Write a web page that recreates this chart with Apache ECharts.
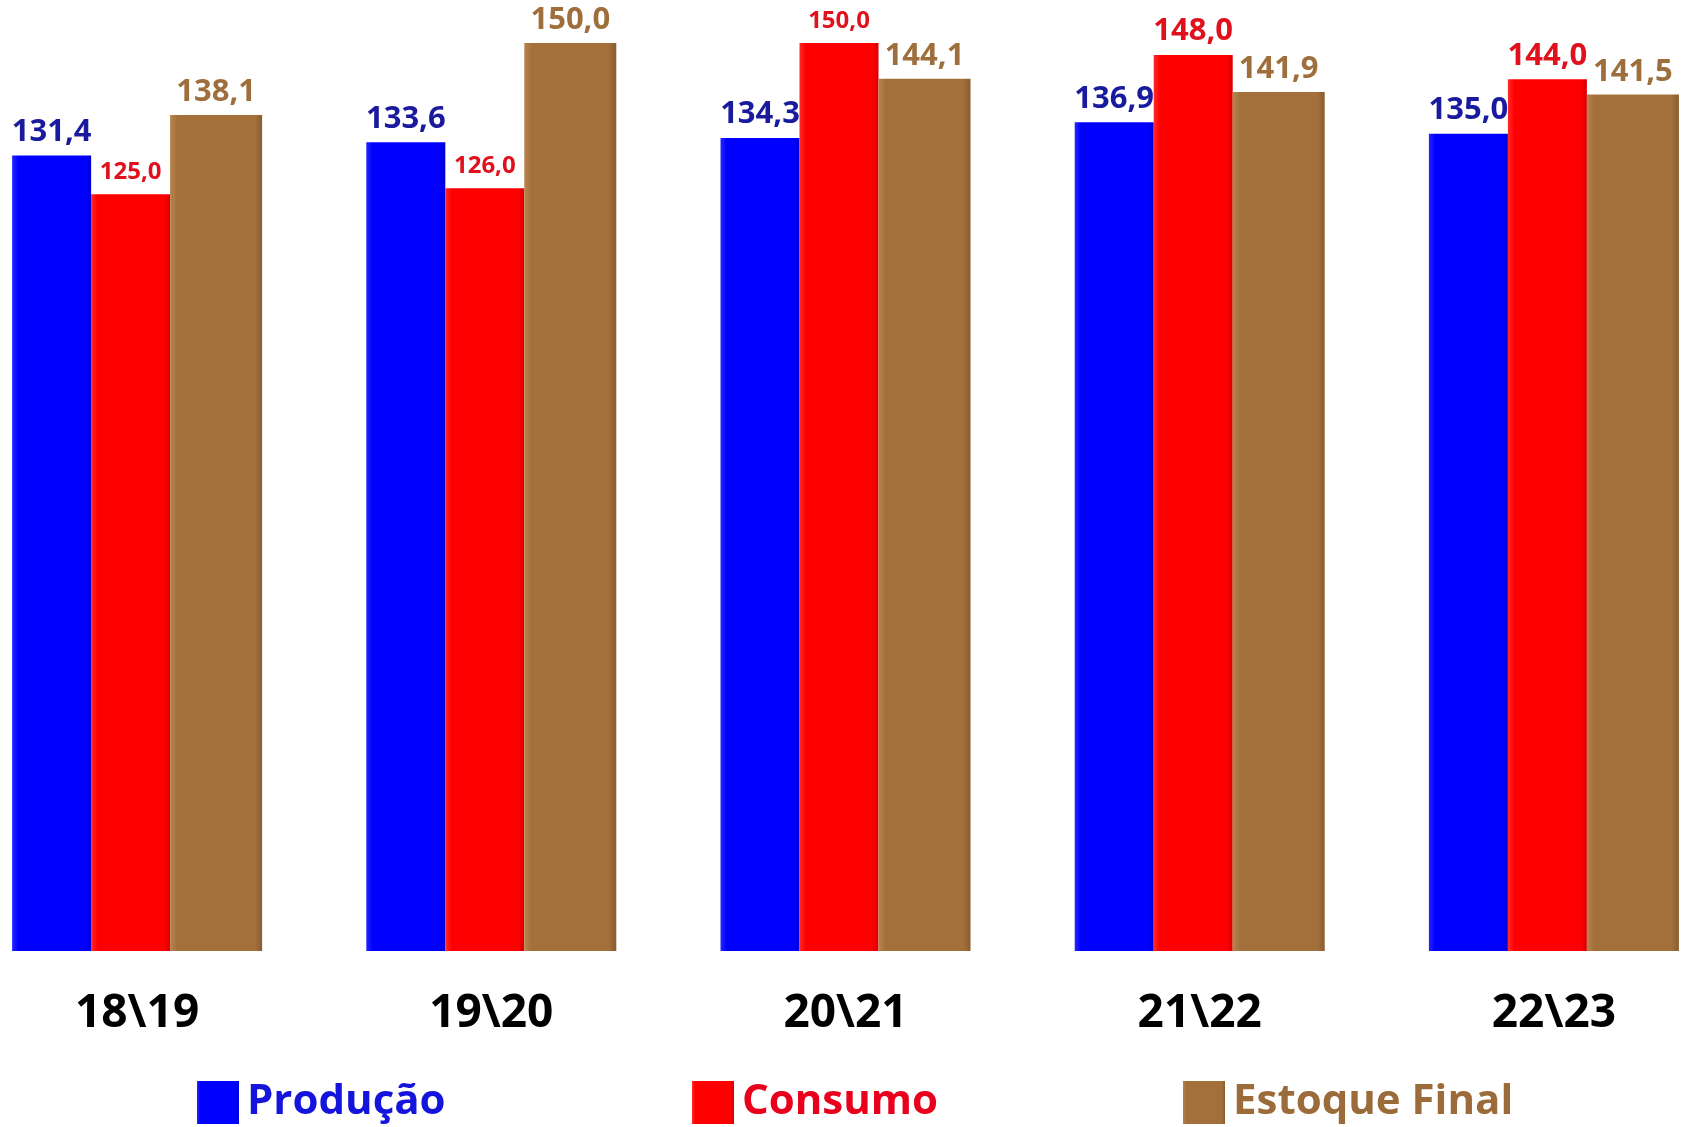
<!DOCTYPE html>
<html>
<head>
<meta charset="utf-8">
<script src="https://cdn.jsdelivr.net/npm/echarts@6/dist/echarts.min.js"></script>
<style>
html,body{margin:0;padding:0;background:#fff;overflow:hidden;width:1686px;height:1127px;}
#chart{position:absolute;left:-40px;top:0;width:1771px;height:1127px;}
</style>
</head>
<body>
<div id="chart"></div>
<script>
const categories = ['18\\19', '19\\20', '20\\21', '21\\22', '22\\23'];
const producao = [131.4, 133.6, 134.3, 136.9, 135.0];
const consumo = [125.0, 126.0, 150.0, 148.0, 144.0];
const estoqueFinal = [138.1, 150.0, 144.1, 141.9, 141.5];
const seriesNames = ['Produção', 'Consumo', 'Estoque Final'];

const FONT = '"Open Sans", "Noto Sans", sans-serif';
const SHIFT = 40; // chart div is shifted left by this amount
const fmt = v => v.toFixed(1).replace('.', ',');
const smallConsumoIdx = [0, 1, 2];

function barGrad(c1, c2, c3) {
  return new echarts.graphic.LinearGradient(0, 0, 1, 0, [
    {offset: 0, color: c1}, {offset: 0.08, color: c2}, {offset: 0.92, color: c2}, {offset: 1, color: c3}
  ]);
}

const chart = echarts.init(document.getElementById('chart'));
const labelBase = {show: true, position: 'top', fontFamily: FONT, fontWeight: 'bold', formatter: p => fmt(p.value)};

function legend(name, left, color) {
  return {
    data: [{name: name, icon: 'rect'}],
    left: left + SHIFT, top: 1081, padding: 0,
    itemWidth: 42, itemHeight: 43, itemGap: 0,
    textStyle: {fontFamily: FONT, fontWeight: 'bold', fontSize: 42, color: color, padding: [0, 0, 0, 3]},
    selectedMode: false
  };
}

chart.setOption({
  animation: false,
  backgroundColor: '#ffffff',
  legend: [
    legend(seriesNames[0], 197, '#1414dc'),
    legend(seriesNames[1], 692, '#e8001c'),
    legend(seriesNames[2], 1183, '#9c6b3a')
  ],
  grid: {left: 0, width: 1771, top: 43, height: 908, containLabel: false},
  xAxis: {
    type: 'category', data: categories,
    axisLine: {show: false}, axisTick: {show: false},
    axisLabel: {fontFamily: FONT, fontWeight: 'bold', fontSize: 46, color: '#000', margin: 40}
  },
  yAxis: {type: 'value', min: 0, max: 150, show: false, splitLine: {show: false}},
  series: [
    {
      name: seriesNames[0], type: 'bar', data: producao, barWidth: 79, barGap: 0,
      itemStyle: {color: barGrad('#2424ff', '#0000ff', '#0000d8')},
      label: Object.assign({}, labelBase, {fontSize: 31, color: '#1a1a9e', distance: 8})
    },
    {
      name: seriesNames[1], type: 'bar', barWidth: 79, barGap: 0,
      data: consumo.map((v, i) => ({
        value: v,
        label: smallConsumoIdx.includes(i) ? {fontSize: 24, distance: 10} : {fontSize: 31, distance: 8}
      })),
      itemStyle: {color: barGrad('#ff2a2a', '#ff0000', '#d80000')},
      label: Object.assign({}, labelBase, {color: '#e0101c'})
    },
    {
      name: seriesNames[2], type: 'bar', data: estoqueFinal, barWidth: 92, barGap: 0,
      itemStyle: {color: barGrad('#b8844c', '#a3703c', '#8a5c2e')},
      label: Object.assign({}, labelBase, {fontSize: 31, color: '#9e6f3c', distance: 7})
    }
  ]
});
</script>
</body>
</html>
